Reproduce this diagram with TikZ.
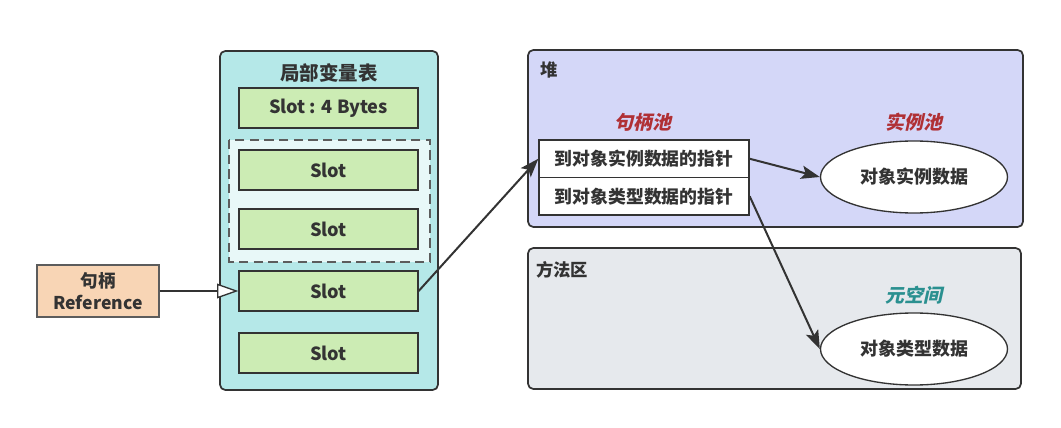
\documentclass[tikz,border=0pt]{standalone}
\usepackage{fontspec}
\setmainfont{Noto Sans CJK SC}
\newfontfamily\cjksl[FakeSlant=0.22]{Noto Sans CJK SC}
\usetikzlibrary{arrows.meta,shapes.geometric}
\definecolor{txt}{HTML}{333333}
\definecolor{tealbg}{HTML}{B5E8E8}
\definecolor{dashbg}{HTML}{E8F8F8}
\definecolor{slotg}{HTML}{CCECB4}
\definecolor{peach}{HTML}{F8D5B5}
\definecolor{heapbg}{HTML}{D4D7F8}
\definecolor{methbg}{HTML}{E6E9ED}
\definecolor{redl}{HTML}{B03035}
\definecolor{teall}{HTML}{2A9090}
\begin{document}
\begin{tikzpicture}[x=0.75pt,y=-0.75pt,
  every node/.style={text=txt,font=\bfseries},
  region/.style={draw=txt,line width=1.3pt,rounded corners=4pt},
  slotbox/.style={draw=txt,line width=1pt,fill=slotg,minimum width=179*0.75pt,minimum height=40*0.75pt,inner sep=0pt,font=\bfseries\fontsize{13.6}{15}\selectfont},
  hbox/.style={draw=txt,line width=1pt,fill=white,minimum width=210*0.75pt,minimum height=37.5*0.75pt,inner sep=0pt,font=\bfseries\fontsize{13.4}{15}\selectfont},
  ell/.style={ellipse,draw=txt,line width=1pt,fill=white,minimum width=187*0.75pt,minimum height=72*0.75pt,inner sep=0pt,font=\bfseries\fontsize{13.5}{15}\selectfont},
  pool/.style={font=\cjksl\bfseries\fontsize{14.2}{16}\selectfont},
  conn/.style={draw=txt,line width=1.5pt,-{Stealth[length=14pt,width=10pt,inset=3pt]}},
]
\useasboundingbox (0,0) rectangle (1061,428);
% local variable table
\draw[region,fill=tealbg] (220,51) rectangle (438,390);
\node[font=\bfseries\fontsize{14.6}{16}\selectfont] (lvt) at (329,73) {局部变量表};
\node[slotbox] (s0) at (328.5,108) {Slot : 4 Bytes};
\draw[draw=txt!80,line width=0.9pt,dash pattern=on 7pt off 4pt,fill=dashbg] (229,140) rectangle (430,262);
\node[slotbox] (s1) at (328.5,170) {Slot};
\node[slotbox] (s2) at (328.5,229) {Slot};
\node[slotbox] (s3) at (328.5,291) {Slot};
\node[slotbox] (s4) at (328.5,353) {Slot};
% reference
\node[draw=txt!80,line width=1pt,fill=peach,minimum width=122*0.75pt,minimum height=52*0.75pt,inner sep=0pt,align=center,font=\bfseries\fontsize{13.2}{17}\selectfont] (ref) at (98,291) {句柄\\Reference};
\draw[draw=txt,line width=1pt,-{Triangle[open,length=16pt,width=11pt,fill=white]}] (ref.east) -- (s3.west);
% heap
\draw[region,fill=heapbg] (528,50) rectangle (1023,227);
\node[font=\bfseries\fontsize{13}{14}\selectfont] (heap) at (549,70) {堆};
\node[pool,text=redl] (hpool) at (643,122) {句柄池};
\node[pool,text=redl] (ipool) at (914,122) {实例池};
\node[hbox] (h1) at (644,158.75) {到对象实例数据的指针};
\node[hbox] (h2) at (644,196.25) {到对象类型数据的指针};
\node[ell] (e1) at (914,177) {对象实例数据};
% method area
\draw[region,fill=methbg] (528,248) rectangle (1021,389);
\node[font=\bfseries\fontsize{13}{14}\selectfont] (meth) at (562,270) {方法区};
\node[pool,text=teall] (meta) at (914,295) {元空间};
\node[ell] (e2) at (914,349) {对象类型数据};
% connectors
\draw[conn] (s3.east) -- (h1.west);
\draw[conn] (h1.east) -- (e1.west);
\draw[conn] (h2.east) -- (e2.west);
\end{tikzpicture}
\end{document}
